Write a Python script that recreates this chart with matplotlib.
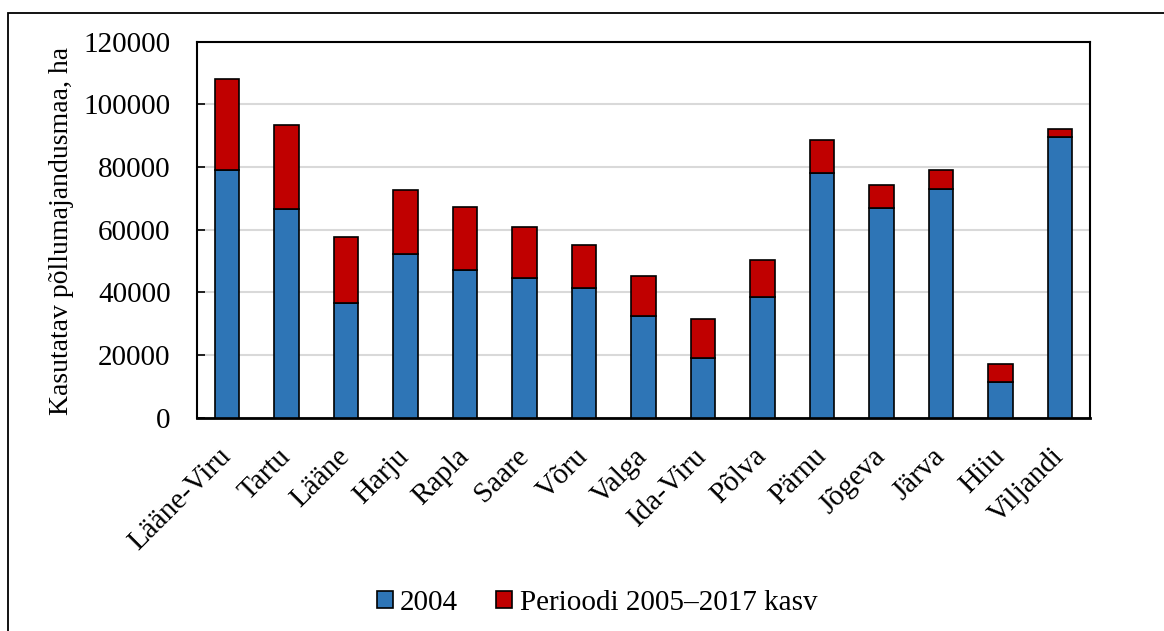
import matplotlib
matplotlib.use("Agg")
import matplotlib.pyplot as plt
from matplotlib.patches import Rectangle
import numpy as np

plt.rcParams['font.family'] = ['Liberation Serif', 'DejaVu Serif']

maakonnad = ["Lääne-Viru", "Tartu", "Lääne", "Harju", "Rapla", "Saare", "Võru",
             "Valga", "Ida-Viru", "Põlva", "Pärnu", "Jõgeva", "Järva", "Hiiu",
             "Viljandi"]
# kasutatav põllumajandusmaa 2004 ja kokku 2017 (ha)
maa_2004 = [79200, 66700, 36500, 52300, 47100, 44700, 41400, 32600, 19100,
            38600, 78200, 67000, 72900, 11400, 89500]
maa_2017 = [108100, 93400, 57800, 72700, 67100, 61000, 55100, 45200, 31400,
            50300, 88600, 74300, 79000, 17200, 92100]
kasv = [k - a for a, k in zip(maa_2004, maa_2017)]

sinine = "#2E75B6"
punane = "#C00000"
fs = 21

fig = plt.figure(figsize=(11.64, 6.31), dpi=100)
ax = fig.add_axes([197 / 1164, 1 - 417.7 / 631, (1090 - 197) / 1164, 376 / 631])

x = np.arange(len(maakonnad))
ax.bar(x, maa_2004, width=0.41, color=sinine, edgecolor="black", linewidth=1.2,
       label="2004", zorder=3)
ax.bar(x, kasv, width=0.41, bottom=maa_2004, color=punane, edgecolor="black",
       linewidth=1.2, label="Perioodi 2005–2017 kasv", zorder=3)

ax.set_xlim(-0.5, len(maakonnad) - 0.5)
ax.set_ylim(0, 120000)
ax.set_yticks(np.arange(0, 120001, 20000))
ax.yaxis.grid(True, color="#d9d9d9", linewidth=1.5, zorder=0)
ax.set_axisbelow(True)
ax.tick_params(axis="y", direction="in", length=6, width=1.2, labelsize=fs, pad=19)
ax.tick_params(axis="x", length=0, pad=25)
ax.set_xticks(x)
ax.set_xticklabels(maakonnad, rotation=45, ha="right", va="center",
                   rotation_mode="anchor", fontsize=fs)
for s in ax.spines.values():
    s.set_linewidth(1.5)
ax.spines["bottom"].set_linewidth(2)

fig.text(62 / 1164, 1 - 231 / 631, "Kasutatav põllumajandusmaa, ha", rotation=90,
         ha="center", va="center", fontsize=20)

fig.legend(loc="center", bbox_to_anchor=(597 / 1164, 1 - 603 / 631), ncol=2,
           frameon=False, fontsize=fs, handlelength=0.55, handleheight=0.55,
           handletextpad=0.25, columnspacing=1.3)

# raam ümber kogu joonise
fig.patches.append(Rectangle((8 / 1164, -0.1), 1.2, (1 - 13 / 631) + 0.1,
                             transform=fig.transFigure, fill=False,
                             edgecolor="black", linewidth=1.3))

fig.savefig("out.png", dpi=100)
